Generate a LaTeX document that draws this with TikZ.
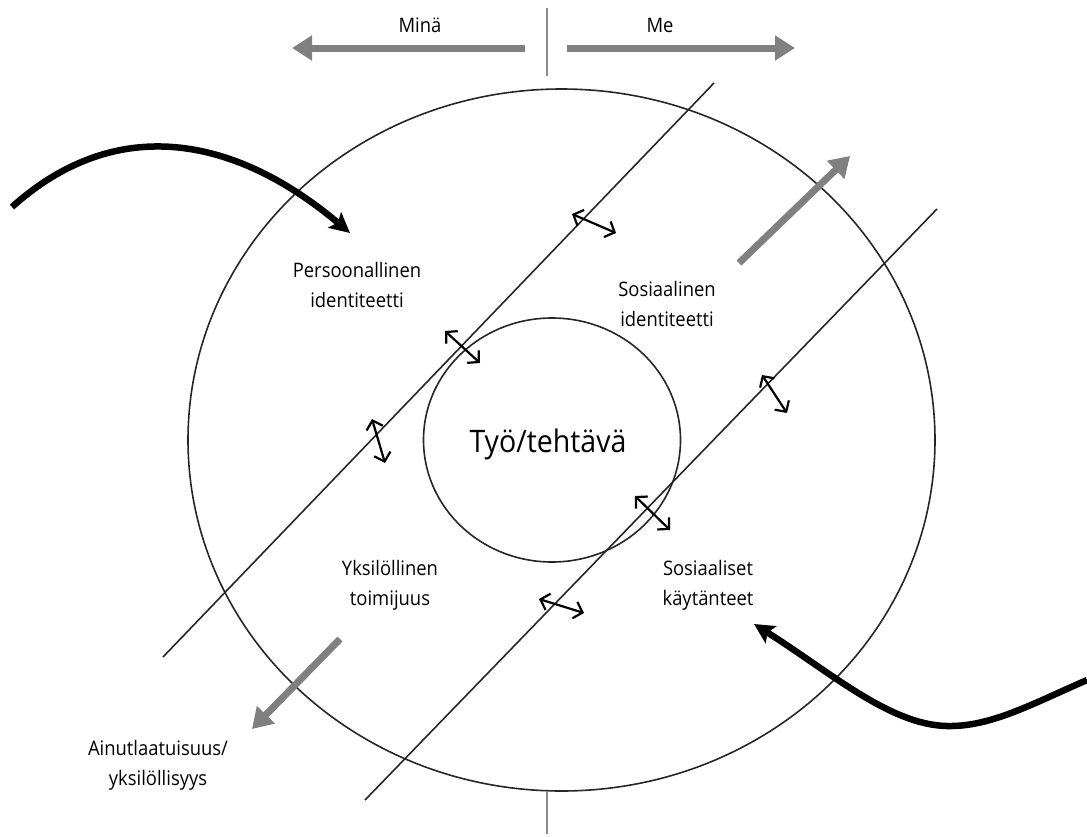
\documentclass[tikz,border=0pt]{standalone}
\usepackage{fontspec}
\setmainfont{Open Sans}
\newfontfamily\lblfont[FakeStretch=0.92]{Open Sans}
\usetikzlibrary{arrows.meta,shapes.geometric}
\begin{document}
\begin{tikzpicture}[x=1pt,y=-1pt,
  thin line/.style={line width=1.6pt,draw=black!85},
  grayarrow/.style={line width=7pt,draw=black!50,-{Triangle[length=20pt,width=24pt]}},
  blackarrow/.style={line width=6.5pt,draw=black,-{Stealth[length=20pt,width=20pt,inset=4pt]}},
  small/.style={line width=2.2pt,{Straight Barb[length=8pt,width=17pt]}-{Straight Barb[length=8pt,width=17pt]}},
  lbl/.style={align=center,font=\lblfont\fontsize{20}{30}\selectfont,inner sep=0pt},
  ]
\useasboundingbox (0,0) rectangle (1087,836);
% circles
\draw[thin line] (561.5,440) ellipse [x radius=373.5, y radius=351];
\node[draw=black!85,line width=1.6pt,ellipse,minimum width=257pt,minimum height=244pt,inner sep=0pt] (work) at (552,440) {};
\node[font=\lblfont\fontsize{31}{36}\selectfont,inner sep=0pt] (worklbl) at (548,444) {Työ/tehtävä};
% diagonal lines
\coordinate (l1a) at (163,657); \coordinate (l1b) at (714,83);
\coordinate (l2a) at (365,800); \coordinate (l2b) at (937,209);
\draw[thin line] (l1a) -- (l1b);
\draw[thin line] (l2a) -- (l2b);
% vertical ticks
\coordinate (vt1) at (547,8); \coordinate (vt2) at (547,76);
\coordinate (vb1) at (547,791); \coordinate (vb2) at (547,834);
\draw[line width=1.5pt,draw=black!45] (vt1) -- (vt2);
\draw[line width=1.5pt,draw=black!45] (vb1) -- (vb2);
% top gray arrows
\coordinate (mina0) at (525,48); \coordinate (mina1) at (292,48);
\coordinate (me0) at (567,48); \coordinate (me1) at (795,48);
\draw[grayarrow] (mina0) -- (mina1);
\draw[grayarrow] (me0) -- (me1);
\node[lbl] (minalbl) at (420,25) {Minä};
\node[lbl] (melbl) at (660,25) {Me};
% diagonal gray arrows
\coordinate (ne0) at (739,263); \coordinate (ne1) at (850,156);
\coordinate (sw0) at (340,639); \coordinate (sw1) at (252,729);
\draw[grayarrow] (ne0) -- (ne1);
\draw[grayarrow] (sw0) -- (sw1);
% black curved arrows
\coordinate (c1s) at (12,207); \coordinate (c1e) at (350,233);
\draw[blackarrow] (c1s) .. controls (120,110) and (240,140) .. (c1e);
\coordinate (c2s) at (1087,680); \coordinate (c2m) at (947,726); \coordinate (c2e) at (754,624);
\draw[line width=6.5pt] (c2s) .. controls (1030,705) and (990,727) .. (c2m);
\draw[blackarrow] (c2m) .. controls (890,725) and (830,672) .. (c2e);
% small double arrows
\coordinate (s1a) at (572,214); \coordinate (s1b) at (616,233);
\coordinate (s2a) at (445,331); \coordinate (s2b) at (480,363);
\coordinate (s3a) at (372,419); \coordinate (s3b) at (385,463);
\coordinate (s4a) at (635,496); \coordinate (s4b) at (670,530);
\coordinate (s5a) at (539,599); \coordinate (s5b) at (584,613);
\coordinate (s6a) at (762,375); \coordinate (s6b) at (787,413);
\foreach \i in {1,...,6} {\draw[small] (s\i a) -- (s\i b);}
% labels
\node[lbl] (pi) at (357,285) {Persoonallinen\\identiteetti};
\node[lbl] (si) at (667,304) {Sosiaalinen\\identiteetti};
\node[lbl] (yt) at (390,585) {Yksilöllinen\\toimijuus};
\node[lbl] (sk) at (708,585) {Sosiaaliset\\käytänteet};
\node[lbl] (ay) at (158,765) {Ainutlaatuisuus/\\yksilöllisyys};
\end{tikzpicture}
\end{document}
